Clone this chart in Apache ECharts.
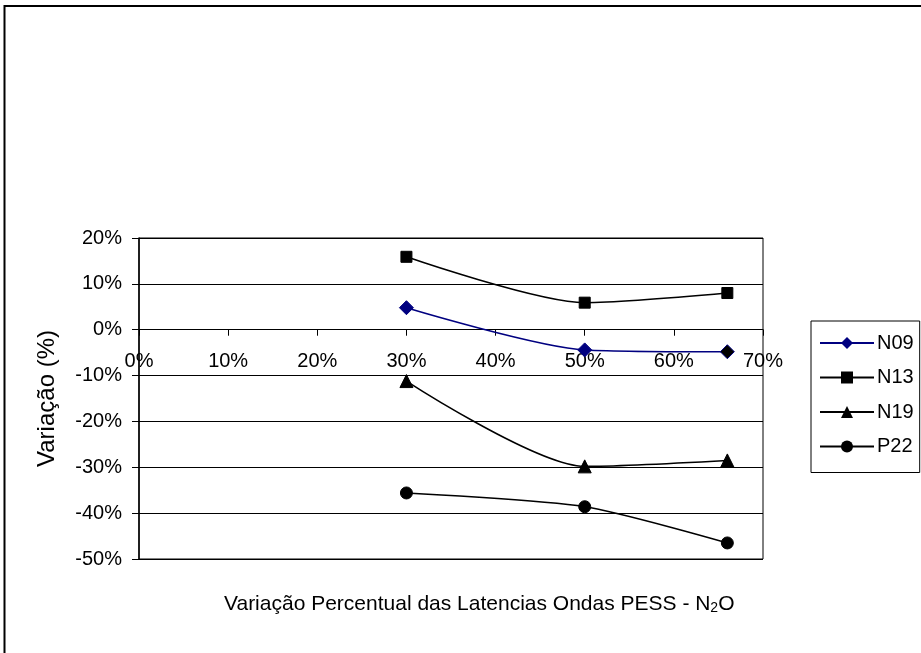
<!DOCTYPE html>
<html>
<head>
<meta charset="utf-8">
<script src="https://cdn.jsdelivr.net/npm/echarts@6/dist/echarts.min.js"></script>
<style>
html,body{margin:0;padding:0;background:#fff;}
#chart{width:921px;height:653px;}
</style>
</head>
<body>
<div id="chart"></div>
<script>
// Data (percent)
var xValues = [30, 50, 66];
var seriesNames = ['N09', 'N13', 'N19', 'P22'];
var N09 = [4.8, -4.4, -4.8];
var N13 = [15.9, 5.9, 8.0];
var N19 = [-11.2, -29.8, -28.5];
var P22 = [-35.6, -38.6, -46.5];
var xTicks = [0, 10, 20, 30, 40, 50, 60, 70];
var yTicks = [-50, -40, -30, -20, -10, 0, 10, 20];
var xTitle = 'Variação Percentual das Latencias Ondas PESS - N';
var yTitle = 'Variação (%)';

function pairs(vals) { return xValues.map(function (x, i) { return [x, vals[i]]; }); }

var FONT = '"Liberation Sans", Arial, sans-serif';
var chart = echarts.init(document.getElementById('chart'));

function lineSeries(name, vals, symbol, size, color) {
  return {
    name: name, type: 'line', data: pairs(vals), smooth: 0.25,
    symbol: symbol, symbolSize: size,
    lineStyle: { color: color, width: 1.5 },
    itemStyle: { color: color, borderColor: color },
    emphasis: { disabled: true }
  };
}

// grid geometry (layout only)
var GRID_TOP = 238, GRID_BOTTOM = 94, CHART_H = 653;
var plotH = CHART_H - GRID_TOP - GRID_BOTTOM;
var yMin = yTicks[0], yMax = yTicks[yTicks.length - 1];
var zeroOffset = -plotH * (0 - yMin) / (yMax - yMin);

var option = {
  animation: false,
  backgroundColor: '#fff',
  textStyle: { fontFamily: FONT },
  grid: { left: 139, right: 158, top: GRID_TOP, bottom: GRID_BOTTOM, show: true, borderColor: '#000', borderWidth: 1, backgroundColor: 'transparent' },
  title: {
    text: '{m|' + xTitle + '}{s|2}{m|O}',
    left: 219, top: 584,
    textStyle: {
      fontWeight: 'normal',
      rich: {
        m: { fontFamily: FONT, fontSize: 21, fontWeight: 'normal', color: '#000', lineHeight: 26, verticalAlign: 'bottom' },
        s: { fontFamily: FONT, fontSize: 14, fontWeight: 'normal', color: '#000', lineHeight: 14, verticalAlign: 'bottom' }
      }
    }
  },
  legend: {
    orient: 'vertical', left: 811, top: 321,
    data: seriesNames,
    itemWidth: 54, itemHeight: 15, itemGap: 14.5,
    padding: [12, 6, 16, 8],
    borderColor: '#000', borderWidth: 1, backgroundColor: '#fff',
    textStyle: { fontFamily: FONT, fontSize: 20, color: '#000', padding: [0, 0, 0, -2] }
  },
  visualMap: {
    show: false, type: 'piecewise', seriesIndex: 0, dimension: 0,
    pieces: [{ min: -100, max: 50, color: '#000080' }, { min: 50.001, max: 200, color: '#000000' }]
  },
  xAxis: {
    type: 'value', min: xTicks[0], max: xTicks[xTicks.length - 1], interval: 10,
    position: 'bottom', offset: zeroOffset,
    axisLine: { onZero: false, lineStyle: { color: '#000', width: 1 } },
    axisTick: { show: true, length: 6, lineStyle: { color: '#000' } },
    axisLabel: { formatter: '{value}%', fontFamily: FONT, fontSize: 20, color: '#000', margin: 22 },
    splitLine: { show: false }
  },
  yAxis: {
    type: 'value', min: yMin, max: yMax, interval: 10,
    name: yTitle, nameLocation: 'middle', nameGap: 80,
    nameTextStyle: { fontFamily: FONT, fontSize: 24, color: '#000' },
    axisLine: { show: true, lineStyle: { color: '#000', width: 1.5 } },
    axisTick: { show: true, length: 7, lineStyle: { color: '#000' } },
    axisLabel: { formatter: '{value}%', fontFamily: FONT, fontSize: 20, color: '#000', margin: 17 },
    splitLine: { show: true, lineStyle: { color: '#000', width: 1 } }
  },
  graphic: [{
    type: 'rect', silent: true,
    shape: { x: 4.5, y: 6, width: 1000, height: 1000 },
    style: { fill: 'none', stroke: '#000', lineWidth: 2 }
  }],
  series: [
    lineSeries('N09', N09, 'diamond', 14, '#000080'),
    lineSeries('N13', N13, 'rect', 11, '#000'),
    lineSeries('N19', N19, 'triangle', 13, '#000'),
    lineSeries('P22', P22, 'circle', 12, '#000')
  ]
};
chart.setOption(option);
</script>
</body>
</html>
